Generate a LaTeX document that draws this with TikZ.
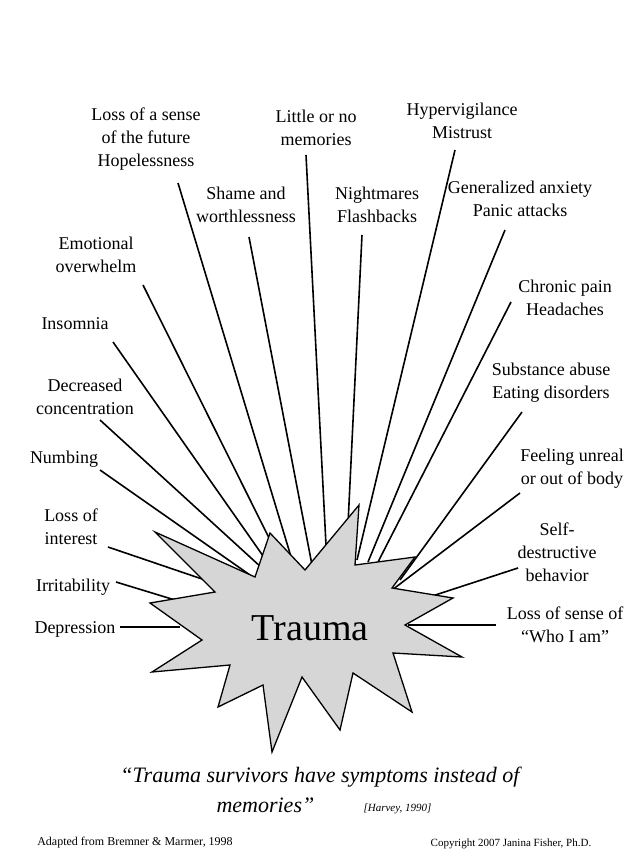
\documentclass[tikz,border=0pt]{standalone}
\usepackage{fontspec}
\setmainfont{Liberation Serif}
\begin{document}
\begin{tikzpicture}[x=1pt,y=-1pt,
 lab/.style={align=center,font=\fontsize{18}{23}\selectfont,inner sep=0pt},
 ln/.style={line width=1.6pt}]
\useasboundingbox (0,0) rectangle (640,853);
\fill[white] (0,0) rectangle (640,853);
% labels
\node[lab] (dep) at (75,629) {Depression};
\node[lab] (irr) at (73,587) {Irritability};
\node[lab] (int) at (71,527) {Loss of\\interest};
\node[lab] (numb) at (64,459) {Numbing};
\node[lab] (conc) at (85,397) {Decreased\\concentration};
\node[lab] (ins) at (75,324) {Insomnia};
\node[lab] (emo) at (96,255) {Emotional\\overwhelm};
\node[lab] (fut) at (146,139) {Loss of a sense\\of the future\\Hopelessness};
\node[lab] (sham) at (246,205) {Shame and\\worthlessness};
\node[lab] (mem) at (316,128) {Little or no\\memories};
\node[lab] (night) at (377,205) {Nightmares\\Flashbacks};
\node[lab] (hyp) at (462,121) {Hypervigilance\\Mistrust};
\node[lab] (anx) at (520,199) {Generalized anxiety\\Panic attacks};
\node[lab] (pain) at (565,298) {Chronic pain\\Headaches};
\node[lab] (sub) at (551,383) {Substance abuse\\Eating disorders};
\node[lab] (unr) at (572,469) {Feeling unreal\\or out of body};
\node[lab] (self) at (557,552) {Self-\\destructive\\behavior};
\node[lab] (who) at (565,625) {Loss of sense of\\``Who I am''};
% connectors
\coordinate (c1) at (180,627); \draw[ln] (120,627) -- (c1);
\coordinate (c2) at (175,600); \draw[ln] (116,582) -- (c2);
\coordinate (c3) at (205,580); \draw[ln] (108,547) -- (c3);
\coordinate (c4) at (250,575); \draw[ln] (100,470) -- (c4);
\coordinate (c5) at (262,568); \draw[ln] (100,420) -- (c5);
\coordinate (c6) at (268,563); \draw[ln] (113,342) -- (c6);
\coordinate (c7) at (280,560); \draw[ln] (143,285) -- (c7);
\coordinate (c8) at (292,560); \draw[ln] (178,183) -- (c8);
\coordinate (c9) at (312,565); \draw[ln] (249,237) -- (c9);
\coordinate (c10) at (326,545); \draw[ln] (306,155) -- (c10);
\coordinate (c11) at (347,545); \draw[ln] (362,235) -- (c11);
\coordinate (c12) at (357,560); \draw[ln] (455,150) -- (c12);
\coordinate (c13) at (368,562); \draw[ln] (505,230) -- (c13);
\coordinate (c14) at (378,562); \draw[ln] (511,302) -- (c14);
\coordinate (c15) at (400,580); \draw[ln] (522,412) -- (c15);
\coordinate (c16) at (392,590); \draw[ln] (520,493) -- (c16);
\coordinate (c17) at (420,600); \draw[ln] (518,568) -- (c17);
\coordinate (c18) at (408,625); \draw[ln] (496,625) -- (c18);
% star
\draw[fill={rgb,255:red,214;green,214;blue,214},line width=1.3pt,line join=miter]
 (359,505)--(355,565)--(415,557)--(392,588)--(453,598)--(405,625)--(462,657)--(393,653)
 --(412,712)--(353,673)--(340,730)--(302,677)--(272,752)--(263,685)--(218,707)--(230,665)
 --(152,672)--(202,640)--(150,603)--(215,592)--(155,532)--(255,577)--(270,533)--(305,570)--cycle;
\node[font=\fontsize{38}{38}\selectfont] (tr) at (310,628) {Trauma};
% quote
\node[font=\fontsize{22}{24}\selectfont\itshape] (q1) at (320,777) {``Trauma survivors have symptoms instead of};
\node[anchor=base west,font=\fontsize{22}{24}\selectfont\itshape] (q2) at (213,812) {memories''};
\node[anchor=base west,font=\fontsize{11}{12}\selectfont\itshape] (q3) at (360,811) {[Harvey, 1990]};
\node[font=\fontsize{12}{14}\selectfont] (ad) at (135,843) {Adapted from Bremner \& Marmer, 1998};
\node[font=\fontsize{11}{12}\selectfont] (cp) at (511,844) {Copyright 2007 Janina Fisher, Ph.D.};
\end{tikzpicture}
\end{document}
